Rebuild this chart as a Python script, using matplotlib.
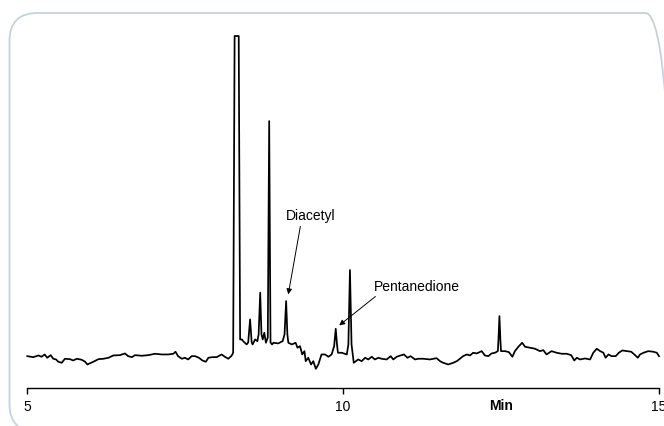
import numpy as np
import matplotlib
matplotlib.use("Agg")
import matplotlib.pyplot as plt
from matplotlib.patches import FancyBboxPatch
from matplotlib.transforms import IdentityTransform

plt.rcParams['font.family'] = ['Liberation Sans', 'DejaVu Sans']

# chromatogram trace: time (min) and detector signal (a.u.)
times = [
    5.005, 5.10, 5.18, 5.23, 5.28, 5.32, 5.375, 5.416, 5.46, 5.495, 5.55, 5.60,
    5.68, 5.73, 5.79, 5.865, 5.92, 5.955, 6.00, 6.05, 6.13, 6.21, 6.29, 6.365,
    6.47, 6.55, 6.60, 6.66, 6.71, 6.815, 6.92, 7.025, 7.13, 7.235, 7.315, 7.35,
    7.39, 7.45, 7.50, 7.55, 7.605, 7.66, 7.72, 7.775, 7.83, 7.87, 7.93, 8.00,
    8.08, 8.13, 8.185, 8.23, 8.25, 8.262, 8.285, 8.35, 8.372, 8.40, 8.42, 8.475,
    8.50, 8.53, 8.555, 8.57, 8.61, 8.645, 8.665, 8.69, 8.71, 8.73, 8.755, 8.78,
    8.81, 8.832, 8.853, 8.877, 8.90, 8.975, 9.045, 9.075, 9.10, 9.12, 9.135,
    9.19, 9.25, 9.28, 9.32, 9.355, 9.39, 9.41, 9.45, 9.495, 9.53, 9.57, 9.61,
    9.66, 9.715, 9.77, 9.82, 9.86, 9.885, 9.905, 9.92, 9.98, 10.06, 10.085,
    10.11, 10.135, 10.17, 10.24, 10.295, 10.35, 10.40, 10.455, 10.505, 10.56,
    10.61, 10.69, 10.755, 10.795, 10.85, 10.91, 10.965, 11.02, 11.07, 11.14,
    11.19, 11.27, 11.375, 11.48, 11.535, 11.585, 11.665, 11.745, 11.80, 11.85,
    11.90, 11.96, 12.01, 12.06, 12.115, 12.195, 12.245, 12.30, 12.35, 12.405,
    12.45, 12.46, 12.475, 12.49, 12.50, 12.565, 12.625, 12.68, 12.72, 12.775,
    12.835, 12.88, 12.96, 13.04, 13.115, 13.17, 13.22, 13.30, 13.38, 13.46,
    13.54, 13.61, 13.66, 13.70, 13.75, 13.83, 13.91, 13.96, 14.015, 14.07,
    14.12, 14.155, 14.20, 14.25, 14.315, 14.365, 14.42, 14.49, 14.56, 14.61,
    14.665, 14.70, 14.755, 14.83, 14.91, 14.965, 15.00,
]
signal = [
    31.3, 30.3, 32, 30.7, 33, 29.7, 32.3, 28.7, 28, 25.7, 24.7, 28.7,
    28.3, 27, 28.7, 27.7, 25.7, 23, 24.3, 25.7, 28.3, 28.7, 29.7, 32,
    32.3, 34, 31.3, 30.3, 32.3, 31.7, 32.3, 33.7, 33, 33, 33.7, 35.7,
    31.3, 28.7, 29.7, 28, 31.3, 31.3, 29.7, 27, 25.7, 29.7, 30.3, 30.3,
    33, 30.7, 28.7, 31.3, 33, 35, 500, 500, 48, 48, 46.3, 43,
    45, 68, 45, 43, 48, 46.3, 53, 94.7, 53, 48, 54.7, 44.7,
    50, 266, 45, 43, 44.7, 44, 46.3, 53, 86.3, 53, 44.7,
    43, 44.7, 39.7, 41.3, 33, 36.3, 26.3, 29.7, 23, 26.3, 18.7, 23,
    33, 33, 30.7, 33, 41.3, 58.7, 43, 34.7, 34.7, 33, 43,
    117.3, 43, 24.7, 28, 26.3, 29.7, 28, 30.7, 28, 29.7,
    28.7, 28, 31.3, 28, 30.7, 32, 33, 29.7, 31.3, 28,
    28.7, 28.7, 28, 29.3, 26.3, 24.7, 23, 24.7, 26.3, 28.7,
    31.3, 33, 32, 34.7, 34, 36.3, 32, 31.3, 34, 34.7,
    36.3, 48, 71.3, 48, 36.3, 36.3, 35.3, 30.7, 36.3, 40.7,
    44.7, 40.7, 39.7, 38.7, 36.3, 37.3, 33, 36.3, 34.7, 33.7,
    33.7, 32.3, 27, 29.7, 28, 29, 28, 34.7, 38.7, 36.3,
    34.7, 29.7, 33, 31.3, 31.3, 34.7, 37, 36.3, 35.7, 33,
    29.7, 33, 34.7, 36.3, 35.7, 34.7, 31.3,
]
x_ticks = [5, 10, 15]
y_max = 351

fig = plt.figure(figsize=(6.64, 4.27), dpi=100)
ax = fig.add_axes([27 / 664, 1 - 388.5 / 427, 632 / 664, 351.5 / 427])

# values above the axis limit are drawn flat along the top, like the original
ax.plot(times, np.minimum(signal, y_max), color='black', lw=1.25, clip_on=False)

ax.set_xlim(5, 15)
ax.set_ylim(0, y_max)
ax.set_xticks(x_ticks)
ax.set_yticks([])
for s in ['top', 'right', 'left']:
    ax.spines[s].set_visible(False)
ax.spines['bottom'].set_linewidth(1.0)
ax.tick_params(axis='x', direction='out', length=4, width=1, pad=4, labelsize=10)

ax.text(12.5, -0.05, 'Min', transform=ax.get_xaxis_transform(),
        ha='center', va='center', fontsize=10, fontweight='bold')

ax.annotate('Diacetyl', xy=(9.134, 93), xytext=(9.494, 172),
            ha='center', va='center', fontsize=10,
            arrowprops=dict(arrowstyle='-|>', color='black', lw=0.7,
                            mutation_scale=8, shrinkA=1, shrinkB=0,
                            relpos=(0.3, 0)))
ax.annotate('Pentanedione', xy=(9.94, 62), xytext=(11.17, 101.5),
            ha='center', va='center', fontsize=10,
            arrowprops=dict(arrowstyle='-|>', color='black', lw=0.7,
                            mutation_scale=8, shrinkA=1, shrinkB=0,
                            relpos=(0.07, 0)))

# rounded frame around the chart, running off the right and bottom edges
frame = FancyBboxPatch((9.5, -6), 664, 419, boxstyle='round,pad=0,rounding_size=28',
                       transform=IdentityTransform(), facecolor='none',
                       edgecolor='#C5D2DC', lw=1.3)
fig.add_artist(frame)

fig.savefig('out.png', dpi=100)
